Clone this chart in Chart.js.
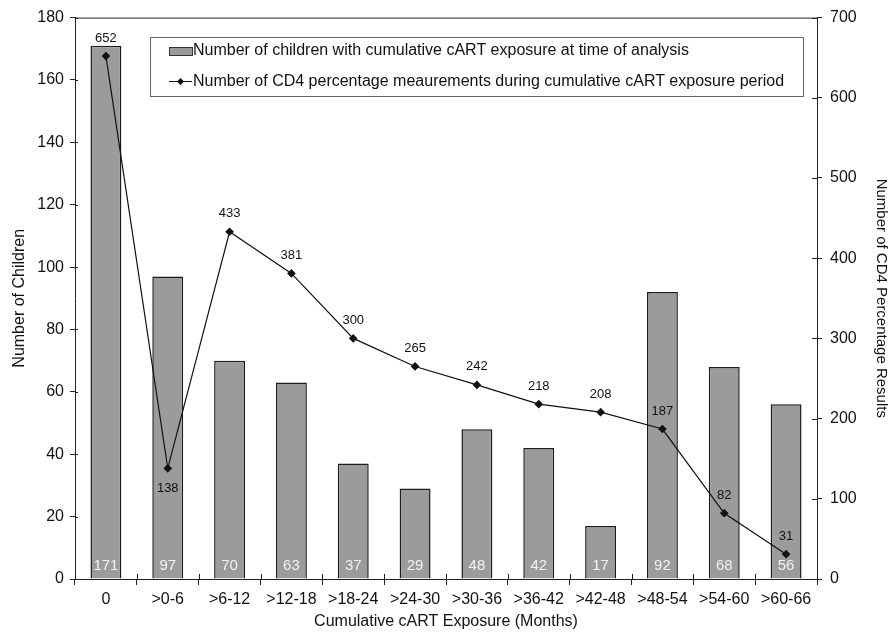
<!DOCTYPE html>
<html>
<head>
<meta charset="utf-8">
<script src="https://cdn.jsdelivr.net/npm/chart.js@4"></script>
<style>
    body { margin: 0; background: #fff; }
    #wrap { width: 896px; height: 635px; position: relative; }
</style>
</head>
<body>
<div id="wrap"><canvas id="cd4Chart"></canvas></div>
<script>
const categories = ['0', '>0-6', '>6-12', '>12-18', '>18-24', '>24-30', '>30-36', '>36-42', '>42-48', '>48-54', '>54-60', '>60-66'];
const childrenCounts = [171, 97, 70, 63, 37, 29, 48, 42, 17, 92, 68, 56];
const cd4Measurements = [652, 138, 433, 381, 300, 265, 242, 218, 208, 187, 82, 31];
const barLegend = 'Number of children with cumulative cART exposure at time of analysis';
const lineLegend = 'Number of CD4 percentage meaurements during cumulative cART exposure period';

const FONT = '"Liberation Sans", Arial, sans-serif';

// labels, legend box, top frame line and the inner half of the tick marks
const annotatePlugin = {
    id: 'annotate',
    afterDatasetsDraw(chart) {
        const ctx = chart.ctx;
        const area = chart.chartArea;
        ctx.save();

        // top frame line
        ctx.strokeStyle = '#222';
        ctx.lineWidth = 1;
        ctx.beginPath();
        ctx.moveTo(area.left, area.top + 0.5);
        ctx.lineTo(area.right, area.top + 0.5);
        ctx.stroke();

        // inner tick marks (ticks cross the axis lines)
        ctx.beginPath();
        const xs = chart.scales.x;
        const step = (xs.right - xs.left) / categories.length;
        for (let i = 1; i < categories.length; i++) {
            const px = Math.round(xs.left + i * step) + 0.5;
            ctx.moveTo(px, area.bottom);
            ctx.lineTo(px, area.bottom - 5);
        }
        chart.scales.yRight.ticks.forEach((t, i) => {
            const py = Math.round(chart.scales.yRight.getPixelForTick(i)) + 0.5;
            ctx.moveTo(area.right, py);
            ctx.lineTo(area.right - 5, py);
        });
        chart.scales.yLeft.ticks.forEach((t, i) => {
            const py = Math.round(chart.scales.yLeft.getPixelForTick(i)) + 0.5;
            ctx.moveTo(area.left, py);
            ctx.lineTo(area.left + 3, py);
        });
        ctx.stroke();

        // bar values inside bars, near the bottom
        const barMeta = chart.getDatasetMeta(0);
        ctx.font = '15px ' + FONT;
        ctx.fillStyle = '#f2f2f2';
        ctx.textAlign = 'center';
        ctx.textBaseline = 'middle';
        barMeta.data.forEach((bar, i) => {
            ctx.fillText(String(childrenCounts[i]), bar.x, area.bottom - 13);
        });

        // line values
        const lineMeta = chart.getDatasetMeta(1);
        ctx.font = '13px ' + FONT;
        ctx.fillStyle = '#111';
        lineMeta.data.forEach((pt, i) => {
            const below = i === 1;
            ctx.fillText(String(cd4Measurements[i]), pt.x, below ? pt.y + 20 : pt.y - 18);
        });

        // legend box
        const lx = 150, ly = 37, lw = 653, lh = 59;
        ctx.fillStyle = '#fff';
        ctx.fillRect(lx, ly, lw, lh);
        ctx.strokeStyle = '#666';
        ctx.strokeRect(lx + 0.5, ly + 0.5, lw, lh);

        ctx.fillStyle = '#999';
        ctx.fillRect(169, 47, 23, 8);
        ctx.strokeStyle = '#333';
        ctx.strokeRect(169.5, 47.5, 23, 8);

        ctx.strokeStyle = '#111';
        ctx.beginPath();
        ctx.moveTo(169, 81.5);
        ctx.lineTo(192, 81.5);
        ctx.stroke();
        ctx.fillStyle = '#111';
        ctx.beginPath();
        ctx.moveTo(180.5, 78);
        ctx.lineTo(184, 81.5);
        ctx.lineTo(180.5, 85);
        ctx.lineTo(177, 81.5);
        ctx.closePath();
        ctx.fill();

        ctx.font = '16px ' + FONT;
        ctx.textAlign = 'left';
        ctx.fillStyle = '#111';
        ctx.fillText(barLegend, 193, 51);
        ctx.fillText(lineLegend, 193, 82);

        ctx.restore();
    }
};

const ctx = document.getElementById('cd4Chart').getContext('2d');
const chart = new Chart(ctx, {
    data: {
        labels: categories,
        datasets: [
            {
                type: 'bar',
                label: barLegend,
                data: childrenCounts,
                yAxisID: 'yLeft',
                backgroundColor: '#9b9b9b',
                borderColor: '#1c1c1c',
                borderWidth: 1.5,
                categoryPercentage: 1.0,
                barPercentage: 0.5,
                order: 2
            },
            {
                type: 'line',
                label: lineLegend,
                data: cd4Measurements,
                yAxisID: 'yRight',
                borderColor: '#111',
                borderWidth: 1.2,
                pointStyle: 'rectRot',
                pointRadius: 3.5,
                pointBackgroundColor: '#111',
                pointBorderColor: '#111',
                tension: 0,
                order: 1
            }
        ]
    },
    options: {
        responsive: true,
        maintainAspectRatio: false,
        animation: false,
        layout: { padding: { top: 15, left: 0, right: 0, bottom: 0 } },
        plugins: {
            legend: { display: false },
            tooltip: { enabled: false }
        },
        scales: {
            x: {
                grid: { display: true, drawOnChartArea: false, offset: true, color: '#222', tickLength: 6 },
                border: { display: true, color: '#222' },
                ticks: { font: { family: FONT, size: 16 }, color: '#111', padding: 5 },
                title: { display: true, text: 'Cumulative cART Exposure (Months)', font: { family: FONT, size: 16 }, color: '#111', padding: { top: 1 } },
                afterFit(scale) { scale.height = 56; }
            },
            yLeft: {
                position: 'left',
                min: 0,
                max: 180,
                ticks: { stepSize: 20, font: { family: FONT, size: 16 }, color: '#111', padding: 6 },
                grid: { drawOnChartArea: false, color: '#222', tickLength: 5 },
                border: { display: true, color: '#222' },
                title: { display: true, text: 'Number of Children', font: { family: FONT, size: 16 }, color: '#111', padding: { top: 10, bottom: 2 } },
                afterFit(scale) { scale.width = 75; }
            },
            yRight: {
                position: 'right',
                min: 0,
                max: 700,
                ticks: { stepSize: 100, font: { family: FONT, size: 16 }, color: '#111', padding: 8 },
                grid: { drawOnChartArea: false, color: '#222', tickLength: 5 },
                border: { display: true, color: '#222' },
                title: { display: true, text: 'Number of CD4 Percentage Results', font: { family: FONT, size: 15 }, color: '#111', padding: { top: 6 } },
                afterFit(scale) { scale.width = 79; }
            }
        }
    },
    plugins: [annotatePlugin]
});
</script>
</body>
</html>
